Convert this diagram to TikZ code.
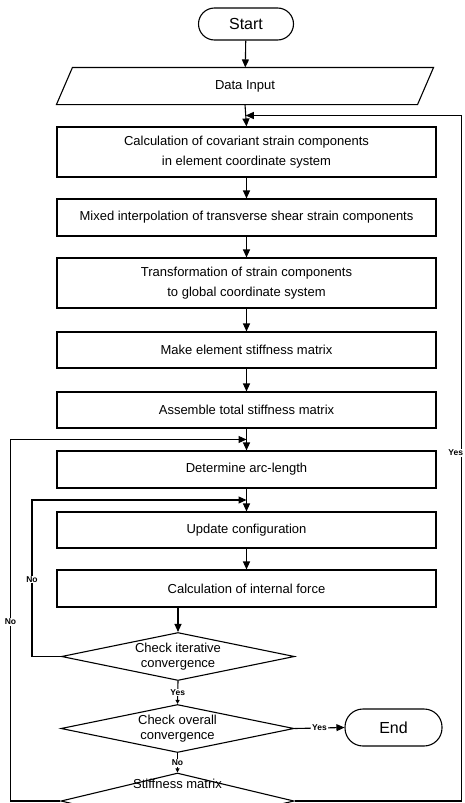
\documentclass[tikz,border=0pt]{standalone}
\usepackage{fontspec}
\setmainfont{Liberation Sans}
\usetikzlibrary{shapes.geometric,arrows.meta,calc}
\begin{document}
\begin{tikzpicture}[x=1pt,y=-1pt,
  line width=1.1pt,
  procbox/.style={draw, rectangle, minimum width=379pt, align=center, inner sep=0pt, font=\fontsize{13}{20}\selectfont},
  termbox/.style={draw, rounded corners=16pt, align=center, inner sep=0pt, font=\fontsize{16}{18}\selectfont},
  iotext/.style={rectangle, minimum width=360pt, minimum height=36pt, inner sep=0pt, font=\fontsize{13}{18}\selectfont},
  decbox/.style={draw, diamond, inner sep=0pt, minimum width=233pt, minimum height=48pt},
  dectext/.style={align=center, font=\fontsize{13}{15.5}\selectfont, inner sep=0pt},
  smalllab/.style={font=\fontsize{8.5}{9}\selectfont\bfseries, fill=white, inner sep=1pt},
  arr/.style={-{Triangle[length=8pt,width=7pt]}},
  sarr/.style={-{Triangle[length=4pt,width=4pt]}},
]
\useasboundingbox (0,0) rectangle (464,803);
\clip (0,0) rectangle (464,803);

\node[termbox, minimum width=95pt, minimum height=32pt] (start) at (246,24) {Start};
\node[iotext] (data) at (245,86) {Data Input};
\draw ($(data.north west)+(8,0)$) -- ($(data.north east)+(8,0)$) -- ($(data.south east)+(-8,0)$) -- ($(data.south west)+(-8,0)$) -- cycle;
\node[procbox, minimum height=50pt] (b1) at (246.5,152) {Calculation of covariant strain components\\in element coordinate system};
\node[procbox, minimum height=37pt] (b2) at (246.5,217.5) {Mixed interpolation of transverse shear strain components};
\node[procbox, minimum height=50pt] (b3) at (246.5,283) {Transformation of strain components\\to global coordinate system};
\node[procbox, minimum height=36pt] (b4) at (246.5,350) {Make element stiffness matrix};
\node[procbox, minimum height=36pt] (b5) at (246.5,410) {Assemble total stiffness matrix};
\node[procbox, minimum height=37pt] (b6) at (246.5,469.5) {Determine arc-length};
\node[procbox, minimum height=36pt] (b7) at (246.5,530) {Update configuration};
\node[procbox, minimum height=37pt] (b8) at (246.5,588.5) {Calculation of internal force};

\node[decbox] (d1) at (178,656.5) {};
\node[dectext] (t1) at (d1.center) {Check iterative\\convergence};
\node[decbox] (d2) at (177.5,728.5) {};
\node[dectext] (t2) at (d2.center) {Check overall\\convergence};
\node[decbox, minimum height=56pt] (d3) at (177.5,801) {};
\node[dectext] (t3) at (177.5,784) {Stiffness matrix};

\node[termbox, minimum width=97pt, minimum height=37pt, rounded corners=18pt] (end) at (393.5,727.5) {End};

\coordinate (j0) at ($(data.south)!0.5!(b1.north)$);
\coordinate (j1) at ($(b5.south)!0.5!(b6.north)$);
\coordinate (j2) at ($(b6.south)!0.5!(b7.north)$);

\draw[arr] (start) -- (data);
\draw[arr] (data.south) -- (b1.north);
\draw[arr] (b1) -- (b2);
\draw[arr] (b2) -- (b3);
\draw[arr] (b3) -- (b4);
\draw[arr] (b4) -- (b5);
\draw[arr] (b5) -- (b6);
\draw[arr] (b6) -- (b7);
\draw[arr] (b7) -- (b8);
\draw[arr] (b8.south -| d1.north) -- (d1.north);
\draw[sarr] (d1.south) -- node[smalllab] {Yes} (d2.north);
\draw[arr] (d2.east) -- node[smalllab] {Yes} (end.west);
\draw[sarr] (d2.south) -- node[smalllab] {No} (d3.north);

\draw[arr] (d1.west) -- ++(-29,0) |- node[smalllab, pos=0.246] {No} (j2);
\draw[arr] (d3.west) -- ++(-50,0) |- node[smalllab, pos=0.248] {No} (j1);
\draw[arr] (d3.east) -- ++(166.5,0) |- node[smalllab, pos=0.254, anchor=east, xshift=3.5pt] {Yes} (j0);
\end{tikzpicture}
\end{document}
